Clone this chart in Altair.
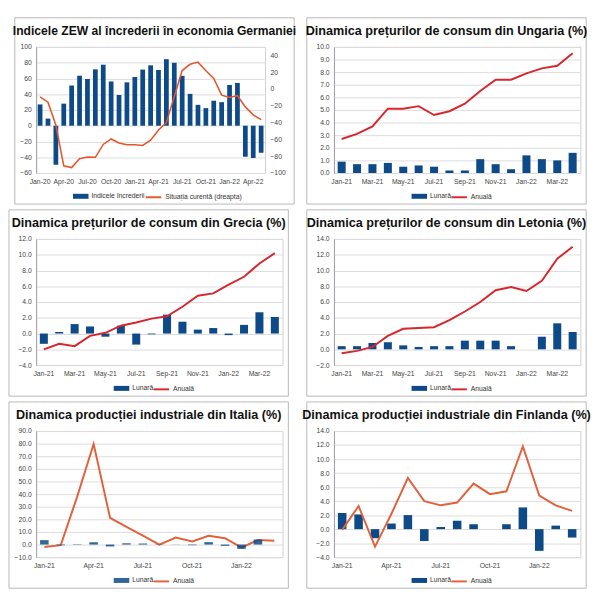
import altair as alt
import pandas as pd

# ---------------- data ----------------
MONTHS = ["Jan-20", "Feb-20", "Mar-20", "Apr-20", "May-20", "Jun-20", "Jul-20", "Aug-20",
          "Sep-20", "Oct-20", "Nov-20", "Dec-20", "Jan-21", "Feb-21", "Mar-21", "Apr-21",
          "May-21", "Jun-21", "Jul-21", "Aug-21", "Sep-21", "Oct-21", "Nov-21", "Dec-21",
          "Jan-22", "Feb-22", "Mar-22", "Apr-22", "May-22"]
MONTHS_CPI = MONTHS[12:28]   # Jan-21 .. Apr-22
MONTHS_IP = MONTHS[12:27]    # Jan-21 .. Mar-22

zew_index = [27, 9, -49.5, 28, 51, 63.4, 59.3, 71.5, 77.4, 56.1, 39, 55, 61.8, 71.2, 76.6,
             70.7, 84.4, 79.8, 63.3, 40.4, 26.5, 22.3, 31.7, 29.9, 51.7, 54.3, -39.3, -41, -34.3]
zew_current = [-9.5, -15.7, -43.1, -91.5, -93.5, -83.1, -80.9, -81.3, -66, -59.5, -64.3, -66.5,
               -66.4, -67.2, -61, -48.8, -40.1, -9.1, 21.9, 29.3, 31.9, 21.6, 12.5, -7.4,
               -10.2, -8.1, -21.4, -30.8, -36.5]

hu_monthly = [0.9, 0.7, 0.7, 0.8, 0.5, 0.6, 0.5, 0.2, 0.2, 1.1, 0.7, 0.3, 1.4, 1.1, 1.0, 1.6]
hu_annual = [2.7, 3.1, 3.7, 5.1, 5.1, 5.3, 4.6, 4.9, 5.5, 6.5, 7.4, 7.4, 7.9, 8.3, 8.5, 9.5]

gr_monthly = [-1.3, 0.2, 1.2, 0.9, -0.4, 1.0, -1.4, -0.1, 2.4, 1.5, 0.5, 0.7, -0.2, 1.1, 2.7, 2.1]
gr_annual = [-2.0, -1.3, -1.6, -0.3, 0.1, 1.0, 1.4, 1.9, 2.2, 3.4, 4.8, 5.1, 6.2, 7.2, 8.9, 10.2]

lv_monthly = [0.4, 0.4, 0.8, 0.9, 0.5, 0.3, 0.4, 0.4, 1.1, 1.1, 1.1, 0.4, 0.0, 1.6, 3.3, 2.2]
lv_annual = [-0.5, -0.2, 0.3, 1.7, 2.6, 2.7, 2.8, 3.7, 4.8, 6.0, 7.5, 7.9, 7.4, 8.7, 11.5, 13.0]

it_monthly = [3.5, -0.6, 0.3, 1.8, -1.5, 1.0, 0.8, -0.1, 0.1, -0.5, 1.9, -1.0, -3.4, 4.0, 0.0]
it_annual = [-2.0, -0.5, 38.0, 79.8, 21.2, 14.0, 7.0, 0.0, 5.5, 2.5, 7.0, 5.0, -2.5, 3.6, 3.0]

fi_monthly = [2.3, 2.1, -1.3, 0.8, 2.0, -1.7, 0.3, 1.2, 0.7, 0.0, 0.7, 3.1, -3.1, 0.5, -1.2]
fi_annual = [-0.1, 3.3, -2.5, 2.2, 7.3, 4.0, 3.4, 3.8, 6.5, 5.0, 5.4, 11.8, 4.8, 3.4, 2.6]

LABELS_2M = ["Jan-21", "Mar-21", "May-21", "Jul-21", "Sep-21", "Nov-21", "Jan-22", "Mar-22"]
LABELS_3M = ["Jan-21", "Apr-21", "Jul-21", "Oct-21", "Jan-22"]
LABELS_ZEW = ["Jan-20", "Apr-20", "Jul-20", "Oct-20", "Jan-21", "Apr-21", "Jul-21", "Oct-21",
              "Jan-22", "Apr-22"]

# ---------------- style ----------------
BAR = "#0e4a87"
RED = "#d7262c"
ORANGE = "#e2603a"
ZEWLINE = "#e4572e"
TITLE_FONT = "Liberation Sans Narrow, Arial Narrow, Liberation Sans"
FONT = "Liberation Sans"
FRAME_W = 288
FRAME_H = 192
T, B = 30, 32
H = FRAME_H - T - B
BAR_PATH = "M-1,-0.32H1V0.32H-1Z"


def ticks(lo, hi, step):
    out, v = [], lo
    while v <= hi + 1e-9:
        out.append(round(v, 6))
        v += step
    return out


def frame(W, L, R):
    return alt.Chart(alt.Data(values=[{"f": 1}])).mark_rect(
        filled=False, stroke="#b8b8b8", strokeWidth=1
    ).encode(x=alt.value(-L), x2=alt.value(W + R), y=alt.value(-T), y2=alt.value(H + B))


def title_mark(text, W, L, R, size=13):
    return alt.Chart(alt.Data(values=[{"f": 1}])).mark_text(
        font=TITLE_FONT, fontSize=size, fontWeight="bold", color="#111",
        align="center", baseline="middle"
    ).encode(x=alt.value((W + R - L) / 2), y=alt.value(-T + 14), text=alt.value(text))


def legend(x):
    return dict(orient="none", legendX=x, legendY=H + 16, title=None, padding=0,
                labelFontSize=7, labelFont=FONT, labelColor="#333", labelOffset=3,
                symbolSize=256)


def xaxis(values):
    return alt.Axis(values=values, title=None, labelAngle=0, ticks=False, domain=False,
                    grid=False, labelFontSize=7, labelFont=FONT, labelColor="#444",
                    labelPadding=5)


def yaxis(values, fmt, orient="left", grid=True):
    return alt.Axis(values=values, format=fmt, title=None, ticks=False, grid=grid,
                    gridColor="#dcdcdc", domain=(orient == "left"), domainColor="#a0a0a0",
                    labelFontSize=7, labelFont=FONT, labelColor="#444", labelPadding=5,
                    labelOverlap=False, orient=orient)


def cpi_panel(ttl, months, monthly, annual, lo, hi, step, labels, line_color,
              line_on_top=True, L=28, R=6):
    W = FRAME_W - L - R
    df = pd.DataFrame({"month": months, "m": monthly, "a": annual,
                       "sm": "Lunară", "sa": "Anuală"})
    x = alt.X("month:N", sort=months, scale=alt.Scale(paddingInner=0.48, paddingOuter=0.24),
              axis=xaxis(labels))
    ysc = alt.Scale(domain=[lo, hi], nice=False, zero=False)
    yax = yaxis(ticks(lo, hi, step), ".1f")
    bars = alt.Chart(df).mark_bar(opacity=0.85 if not line_on_top else 1).encode(
        x=x,
        y=alt.Y("m:Q", scale=ysc, axis=yax),
        fill=alt.Fill("sm:N", scale=alt.Scale(domain=["Lunară"], range=[BAR]),
                      legend=alt.Legend(symbolType=BAR_PATH, symbolStrokeWidth=0,
                                        **legend(80))),
    )
    line = alt.Chart(df).mark_line(strokeWidth=2).encode(
        x=x,
        y=alt.Y("a:Q", scale=ysc, axis=yax),
        stroke=alt.Stroke("sa:N", scale=alt.Scale(domain=["Anuală"], range=[line_color]),
                          legend=alt.Legend(symbolType="stroke", symbolStrokeWidth=2,
                                            **legend(120))),
    )
    layers = [frame(W, L, R)] + ([bars, line] if line_on_top else [line, bars])
    layers.append(title_mark(ttl, W, L, R))
    return alt.layer(*layers).properties(width=W, height=H)


# ---------------- panel 1: ZEW ----------------
L1, R1 = 22, 30
W1 = FRAME_W - L1 - R1
zdf = pd.DataFrame({"month": MONTHS, "idx": zew_index, "cur": zew_current,
                    "si": "Indicele încrederii", "sc": "Situația curentă (dreapta)"})
zx = alt.X("month:N", sort=MONTHS, scale=alt.Scale(paddingInner=0.4, paddingOuter=0.2),
           axis=xaxis(LABELS_ZEW))
zbars = alt.Chart(zdf).mark_bar().encode(
    x=zx,
    y=alt.Y("idx:Q", scale=alt.Scale(domain=[-60, 100], nice=False, zero=False),
            axis=yaxis(ticks(-60, 100, 20), "d")),
    fill=alt.Fill("si:N", scale=alt.Scale(domain=["Indicele încrederii"], range=[BAR]),
                  legend=alt.Legend(symbolType=BAR_PATH, symbolStrokeWidth=0, **legend(38))),
)
zline = alt.Chart(zdf).mark_line(strokeWidth=1.6).encode(
    x=zx,
    y=alt.Y("cur:Q", scale=alt.Scale(domain=[-100, 50], nice=False, zero=False),
            axis=yaxis(ticks(-100, 40, 20), "d", orient="right", grid=False)),
    stroke=alt.Stroke("sc:N", scale=alt.Scale(domain=["Situația curentă (dreapta)"],
                                              range=[ZEWLINE]),
                      legend=alt.Legend(symbolType="stroke", symbolStrokeWidth=2,
                                        **legend(112))),
)
p1 = alt.layer(
    frame(W1, L1, R1), zbars, zline,
    title_mark("Indicele ZEW al încrederii în economia Germaniei", W1, L1, R1, size=12.5),
).resolve_scale(y="independent").properties(width=W1, height=H)

p2 = cpi_panel("Dinamica prețurilor de consum din Ungaria (%)", MONTHS_CPI, hu_monthly,
               hu_annual, 0, 10, 1, LABELS_2M, RED)
p3 = cpi_panel("Dinamica prețurilor de consum din Grecia (%)", MONTHS_CPI, gr_monthly,
               gr_annual, -4, 12, 2, LABELS_2M, RED)
p4 = cpi_panel("Dinamica prețurilor de consum din Letonia (%)", MONTHS_CPI, lv_monthly,
               lv_annual, -2, 14, 2, LABELS_2M, RED)
p5 = cpi_panel("Dinamica producției industriale din Italia (%)", MONTHS_IP, it_monthly,
               it_annual, -10, 90, 10, LABELS_3M, ORANGE, line_on_top=False)
p6 = cpi_panel("Dinamica producției industriale din Finlanda (%)", MONTHS_IP, fi_monthly,
               fi_annual, -4, 14, 2, LABELS_3M, ORANGE)

chart = alt.concat(p1, p2, p3, p4, p5, p6, columns=2, spacing=4).resolve_scale(
    fill="independent", stroke="independent", x="independent", y="independent"
).resolve_legend(fill="independent", stroke="independent").properties(
    padding=0
).configure_view(stroke="#cfcfcf")

chart.save("out.html", embed_options={"renderer": "svg", "actions": False})
